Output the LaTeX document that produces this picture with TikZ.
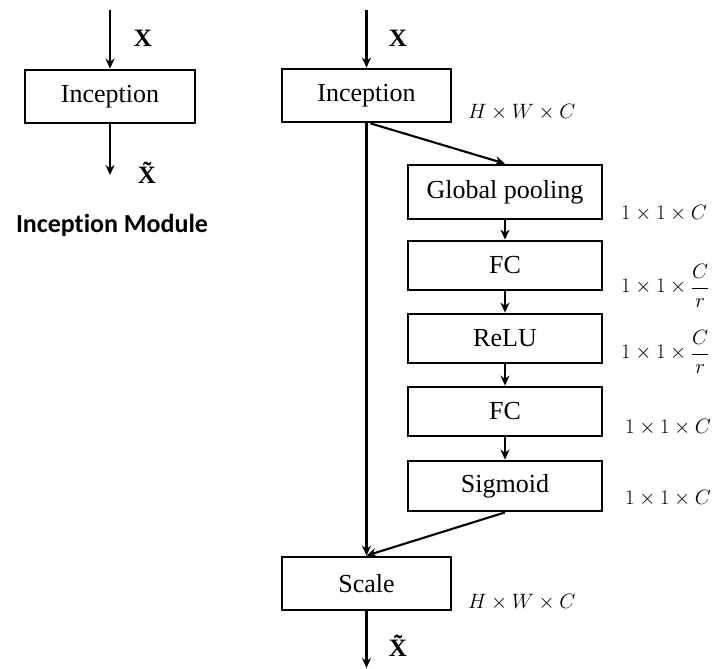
\documentclass[tikz,border=0pt]{standalone}
\usepackage{fontspec}
\setmainfont{Liberation Serif}
\newfontfamily\carlito[Ligatures=NoCommon]{Carlito}
\usetikzlibrary{arrows.meta,calc}
\begin{document}
\begin{tikzpicture}[x=1pt,y=-1pt,
  blk/.style={draw,line width=2.8pt,inner sep=0pt,font=\fontsize{26}{29}\selectfont},
  arr/.style={line width=2.1pt,-{Stealth[length=10pt,width=9pt]}},
  xlab/.style={font=\fontsize{25}{28}\selectfont\bfseries},
  dimlab/.style={font=\fontsize{22.5}{26}\selectfont,anchor=west,inner sep=0pt},
  hwlab/.style={font=\fontsize{21}{24}\selectfont,anchor=west,inner sep=0pt}]
\useasboundingbox (0,0) rectangle (726,669);
% left
\node[blk,minimum width=170,minimum height=53] (inc1) at (110,96.5) {Inception};
\coordinate (l0) at (110,10);
\coordinate (l1) at (110,175);
\draw[arr] (l0) -- (inc1.north);
\draw[arr] (inc1.south) -- (l1);
\node[xlab] (lx) at (143,38) {X};
\node[xlab] (lxt) at (147,173) {\~{X}};
\node[font=\fontsize{26}{30}\selectfont\carlito\bfseries] (lm) at (112,225) {Inception Module};
% right
\node[blk,minimum width=169,minimum height=53] (inc2) at (366.5,95.5) {Inception};
\node[blk,minimum width=194,minimum height=54] (gp) at (505,192) {Global pooling};
\node[blk,minimum width=194,minimum height=49] (fc1) at (505,265.5) {FC};
\node[blk,minimum width=194,minimum height=49] (relu) at (505,338.5) {ReLU};
\node[blk,minimum width=194,minimum height=49] (fc2) at (505,411.5) {FC};
\node[blk,minimum width=194,minimum height=50] (sig) at (505,486) {Sigmoid};
\node[blk,minimum width=169,minimum height=53] (scale) at (366.5,583.5) {Scale};
\coordinate (r0) at (366.5,10);
\coordinate (r1) at (366.5,668);
\draw[arr] (r0) -- (inc2.north);
\draw[arr] (inc2.south) -- (scale.north);
\draw[arr] ($(inc2.south)+(4,0)$) -- (gp.north);
\draw[arr] (gp) -- (fc1);
\draw[arr] (fc1) -- (relu);
\draw[arr] (relu) -- (fc2);
\draw[arr] (fc2) -- (sig);
\draw[arr] (sig.south) -- (scale.north);
\draw[arr] (scale.south) -- (r1);
\node[xlab] (rx) at (398,38) {X};
\node[xlab] (rxt) at (398,646) {\~{X}};
\node[hwlab] (d0) at (468,112) {$H\times W\times C$};
\node[dimlab] (d1) at (621,213) {$1\times 1\times C$};
\node[dimlab] (d2) at (621,286) {$1\times 1\times \displaystyle\frac{C}{r}$};
\node[dimlab] (d3) at (621,352) {$1\times 1\times \displaystyle\frac{C}{r}$};
\node[dimlab] (d4) at (625,427) {$1\times 1\times C$};
\node[dimlab] (d5) at (625,498) {$1\times 1\times C$};
\node[hwlab] (d6) at (468,602) {$H\times W\times C$};
\end{tikzpicture}
\end{document}
